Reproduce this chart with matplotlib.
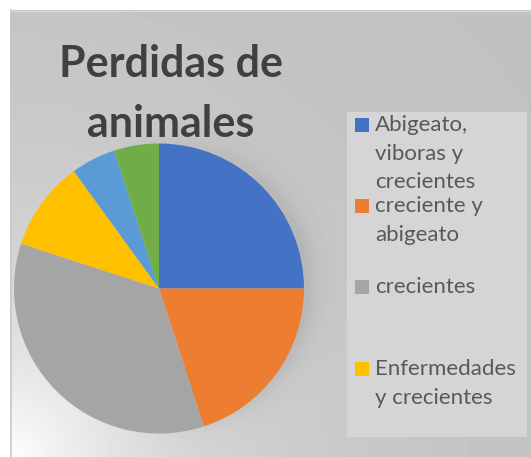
import numpy as np
import matplotlib
matplotlib.use("Agg")
import matplotlib.pyplot as plt
from matplotlib.patches import Rectangle

# data
labels = ["Abigeato,\nviboras y\ncrecientes", "creciente y\nabigeato", "crecientes",
          "Enfermedades\ny crecientes"]
values = [25, 20, 35, 10, 5, 5]
colors = ["#4472C4", "#ED7D31", "#A5A5A5", "#FFC000", "#5B9BD5", "#70AD47"]
title = "Perdidas de\nanimales"

W, H = 531, 457
fig = plt.figure(figsize=(W / 100, H / 100), dpi=100, facecolor="white")
ax = fig.add_axes([0, 0, 1, 1])

# background: gray chart area, lighter toward the lower left, soft shadow round the pie
cx, cy, R = 159, 288.5, 145
yy, xx = np.mgrid[0:H, 0:W].astype(float)
d = np.hypot(xx - 10, yy - 457)
bg = 0.75 + 0.25 * np.exp(-d / 180)
r = np.hypot(xx - (cx + 4), yy - (cy - 3))
shade = 0.07 * np.exp(-np.clip(r - R, 0, None) / 12) * np.clip((xx - cx + 60) / 200, 0, 1)
bg = np.clip(bg - shade, 0, 1)
bg[:10, :] = 1.0
bg[:, :10] = 1.0
ax.imshow(bg, cmap="gray", vmin=0, vmax=1, extent=(0, W, 0, H), origin="upper",
          interpolation="bilinear", zorder=0)
ax.plot([10.5, 10.5], [0, H - 10], color="#c8c8c8", lw=1.2, zorder=1)
ax.plot([10, W], [H - 10.5, H - 10.5], color="#d9d9d9", lw=1.0, zorder=1)

ax.pie(values, colors=colors, startangle=90, counterclock=False,
       center=(cx, H - cy), radius=R, wedgeprops=dict(linewidth=0))
ax.set_xlim(0, W)
ax.set_ylim(0, H)
ax.set_aspect("equal")
ax.axis("off")

# title, one line at a time
for i, line in enumerate(title.split("\n")):
    ax.text(171, H - 77 - i * 60, line, ha="center", va="baseline", fontsize=31,
            fontweight="bold", color="#404040", family="Lato")

# legend box
ax.add_patch(Rectangle((347, H - 437), 180, 325, facecolor="#d5d5d5", edgecolor="none", zorder=2))
entry_y = [125, 206, 287, 369]
for lab, col, y0 in zip(labels, colors, entry_y):
    ax.add_patch(Rectangle((355, H - y0 - 7), 14, 14, facecolor=col, edgecolor="none", zorder=3))
    for i, line in enumerate(lab.split("\n")):
        ax.text(375, H - y0 - i * 28.7, line, ha="left", va="center", fontsize=16,
                color="#595959", family="Lato", zorder=3)

fig.savefig("out.png", dpi=100)
